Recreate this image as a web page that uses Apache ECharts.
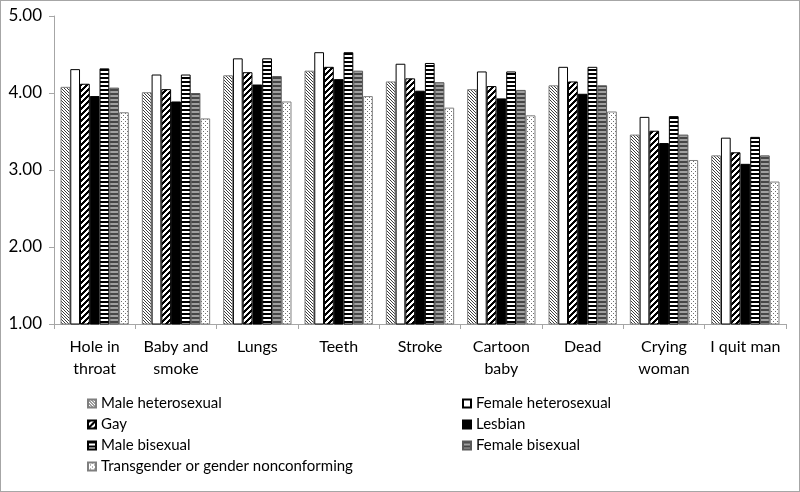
<!DOCTYPE html>
<html><head><meta charset="utf-8">
<script src="https://cdn.jsdelivr.net/npm/echarts@6/dist/echarts.min.js"></script>
<style>
html,body{margin:0;padding:0;background:#fff;}
#c{width:798px;height:490px;border:1px solid #a6a6a6;}
</style></head><body>
<div id="c"></div>
<script>
const categories = ['Hole in\nthroat','Baby and\nsmoke','Lungs','Teeth','Stroke','Cartoon\nbaby','Dead','Crying\nwoman','I quit man'];
const seriesNames = ['Male heterosexual','Female heterosexual','Gay','Lesbian','Male bisexual','Female bisexual','Transgender or gender nonconforming'];
const maleHetero   = [4.08, 4.01, 4.23, 4.29, 4.15, 4.05, 4.10, 3.46, 3.19];
const femaleHetero = [4.31, 4.24, 4.45, 4.53, 4.38, 4.28, 4.34, 3.69, 3.42];
const gay          = [4.12, 4.05, 4.27, 4.34, 4.19, 4.09, 4.15, 3.51, 3.23];
const lesbian      = [3.96, 3.89, 4.11, 4.18, 4.03, 3.93, 3.99, 3.35, 3.08];
const maleBi       = [4.32, 4.24, 4.45, 4.53, 4.39, 4.28, 4.34, 3.70, 3.43];
const femaleBi     = [4.07, 4.00, 4.22, 4.29, 4.14, 4.04, 4.10, 3.46, 3.19];
const trans        = [3.75, 3.67, 3.89, 3.96, 3.81, 3.71, 3.76, 3.13, 2.85];
const yTicks = [1, 2, 3, 4, 5];

function pixPattern(w, h, fn) {
  const c = document.createElement('canvas');
  c.width = w; c.height = h;
  const ctx = c.getContext('2d');
  const img = ctx.createImageData(w, h);
  for (let y = 0; y < h; y++) for (let x = 0; x < w; x++) {
    const col = fn(x, y);
    const i = (y * w + x) * 4;
    img.data[i] = col[0]; img.data[i+1] = col[1]; img.data[i+2] = col[2]; img.data[i+3] = 255;
  }
  ctx.putImageData(img, 0, 0);
  return { image: c, repeat: 'repeat' };
}
const W = [255,255,255], K = [0,0,0];
const patMaleHet = pixPattern(3, 3, (x, y) => ((x - y + 3) % 3 === 0) ? [60,60,60] : W);
const patGay = pixPattern(6, 6, (x, y) => ((x + y) % 6 < 3) ? K : W);
const patMaleBi = pixPattern(1, 4, (x, y) => (y < 2) ? K : W);
const patFemaleBi = pixPattern(1, 4, (x, y) => (y < 2) ? [70,70,70] : [160,160,160]);
const patTrans = pixPattern(4, 4, (x, y) => ((x === 0 && y === 0) || (x === 2 && y === 2)) ? [110,110,110] : W);

const styles = [
  { color: patMaleHet, borderColor: '#7f7f7f' },
  { color: '#ffffff', borderColor: '#000000' },
  { color: patGay, borderColor: '#000000' },
  { color: '#000000', borderColor: '#000000' },
  { color: patMaleBi, borderColor: '#000000' },
  { color: patFemaleBi, borderColor: '#595959' },
  { color: patTrans, borderColor: '#7f7f7f' }
];
const values = [maleHetero, femaleHetero, gay, lesbian, maleBi, femaleBi, trans];

const font = 'Lato, "Open Sans", sans-serif';
const chart = echarts.init(document.getElementById('c'), null, { renderer: 'canvas' });
const legendText = { fontFamily: font, fontSize: 15, color: '#000', lineHeight: 15 };
chart.setOption({
  animation: false,
  backgroundColor: '#ffffff',
  grid: { left: 53, right: 13, top: 15, bottom: 167 },
  xAxis: {
    type: 'category',
    data: categories,
    axisLine: { lineStyle: { color: '#a6a6a6' } },
    axisTick: { show: true, length: 5, lineStyle: { color: '#a6a6a6' } },
    axisLabel: { color: '#000', fontFamily: font, fontSize: 16, lineHeight: 22, margin: 12, interval: 0 }
  },
  yAxis: {
    type: 'value',
    min: 1, max: 5, interval: 1,
    splitLine: { show: false },
    axisLine: { show: true, lineStyle: { color: '#a6a6a6' } },
    axisTick: { show: true, length: 5, lineStyle: { color: '#a6a6a6' } },
    axisLabel: { color: '#000', fontFamily: font, fontSize: 17, margin: 12,
      formatter: v => yTicks.includes(v) ? v.toFixed(2) : '' }
  },
  legend: [
    { orient: 'vertical', left: 81, top: 390, itemWidth: 8, itemHeight: 8, itemGap: 6,
      icon: 'rect', selectedMode: false, textStyle: legendText,
      data: [seriesNames[0], seriesNames[2], seriesNames[4], seriesNames[6]] },
    { orient: 'vertical', left: 456, top: 390, itemWidth: 8, itemHeight: 8, itemGap: 6,
      icon: 'rect', selectedMode: false, textStyle: legendText,
      data: [seriesNames[1], seriesNames[3], seriesNames[5]] }
  ],
  series: seriesNames.map((n, i) => ({
    name: n,
    type: 'bar',
    data: values[i],
    barGap: '0%',
    barCategoryGap: '16%',
    itemStyle: { color: styles[i].color, borderColor: styles[i].borderColor, borderWidth: 1 }
  }))
});
</script>
</body></html>
